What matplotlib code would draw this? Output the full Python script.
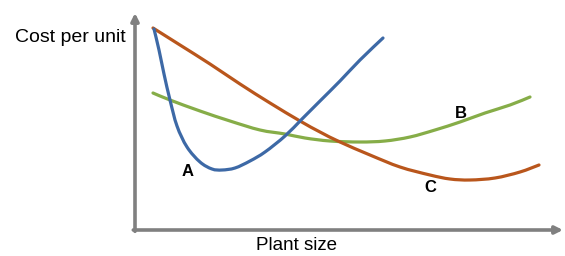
import numpy as np
import matplotlib
matplotlib.use("Agg")
import matplotlib.pyplot as plt
from matplotlib.path import Path
from matplotlib.patches import PathPatch

# curves (plant size, cost per unit)
a_x = [19, 24, 29, 35, 42, 52, 65, 77, 87, 100, 115, 130, 150, 167, 185, 205, 225, 248]
a_y = [201, 180, 156, 130, 104, 83, 68, 61, 60, 62, 69, 78, 94, 111, 129, 149, 170, 192]

b_x = [18, 35, 65, 95, 125, 150, 170, 195, 225, 250, 275, 300, 325, 350, 375, 395]
b_y = [137, 130, 119, 109, 100, 96, 92, 89, 88, 89, 93, 100, 108, 117, 125, 133]

c_x = [18, 45, 75, 105, 135, 165, 185, 205, 235, 265, 295, 315, 335, 360, 385, 404]
c_y = [202, 185, 166, 146, 127, 109, 98, 88, 75, 63, 55, 51, 50, 52, 58, 65]

labels = ["A", "B", "C"]
label_pos = [(53, 58), (326, 117), (295, 42)]

plt.rcParams['font.family'] = ['Liberation Sans', 'DejaVu Sans']


def smooth(xs, ys):
    # catmull-rom through the read points, drawn as bezier segments
    p = np.column_stack([xs, ys]).astype(float)
    verts = [p[0]]
    codes = [Path.MOVETO]
    for i in range(len(p) - 1):
        p0 = p[i - 1] if i > 0 else p[i]
        p3 = p[i + 2] if i + 2 < len(p) else p[i + 1]
        c1 = p[i] + (p[i + 1] - p0) / 6
        c2 = p[i + 1] - (p3 - p[i]) / 6
        verts += [c1, c2, p[i + 1]]
        codes += [Path.CURVE4] * 3
    return Path(verts, codes)


fig = plt.figure(figsize=(5.65, 2.56), dpi=100)
ax = fig.add_axes([135/565, 26/256, 428/565, 217/256])
ax.set_xlim(0, 428)
ax.set_ylim(0, 217)
ax.axis("off")

for xs, ys, col in [(b_x, b_y, "#86AD48"), (c_x, c_y, "#B9561C"), (a_x, a_y, "#3D69A6")]:
    ax.add_patch(PathPatch(smooth(xs, ys), facecolor="none", edgecolor=col,
                           lw=2.3, capstyle="round"))

for t, (x, y) in zip(labels, label_pos):
    ax.text(x, y, t, ha="center", va="center", fontsize=12, fontweight="bold")

# axes with arrow heads
arrow = dict(arrowstyle="-|>", color="#808080", lw=2.6, mutation_scale=11,
             shrinkA=0, shrinkB=0)
ax.annotate("", xy=(1, 0), xytext=(-0.004, 0), xycoords="axes fraction", arrowprops=arrow)
ax.annotate("", xy=(0, 1), xytext=(0, -0.006), xycoords="axes fraction", arrowprops=arrow)

fig.text(70/565, 1 - 37/256, "Cost per unit", ha="center", va="center", fontsize=14)
fig.text(297/565, 1 - 245/256, "Plant size", ha="center", va="center", fontsize=13.5)

fig.savefig("out.png", dpi=100)
